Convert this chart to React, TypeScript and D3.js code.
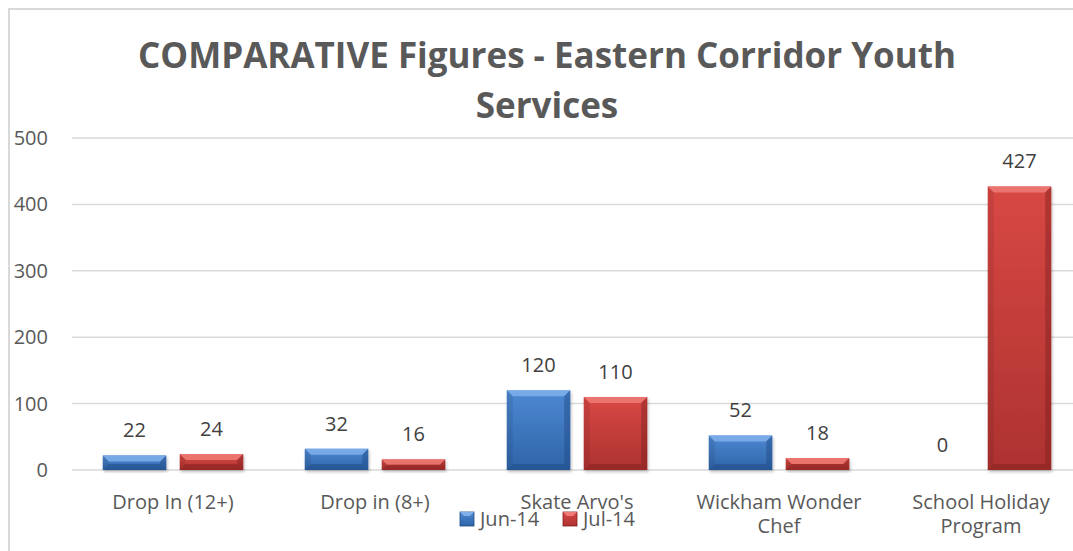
import React, { useEffect, useRef } from 'react'
import * as d3 from 'd3'

const categories = ["Drop In (12+)", "Drop in (8+)", "Skate Arvo's", "Wickham Wonder Chef", "School Holiday Program"]
const categoryLines = [["Drop In (12+)"], ["Drop in (8+)"], ["Skate Arvo's"], ["Wickham Wonder", "Chef"], ["School Holiday", "Program"]]
const seriesNames = ["Jun-14", "Jul-14"]
const jun14 = [22, 32, 120, 52, 0]
const jul14 = [24, 16, 110, 18, 427]
const yTicks = [0, 100, 200, 300, 400, 500]
const titleLines = ["COMPARATIVE Figures - Eastern Corridor Youth", "Services"]

const W = 1073
const H = 551
const FONT = "'Open Sans', 'DejaVu Sans', sans-serif"

const palette = [
    { top: "#7fb0ea", main0: "#4d88d2", main1: "#2f64a8", dark: "#1f4a82" },
    { top: "#ee7b77", main0: "#d84844", main1: "#ad3230", dark: "#7f201e" },
]

export default function App() {
    const svgRef = useRef<SVGSVGElement>(null)

    useEffect(() => {
        if (!svgRef.current) return
        const svg = d3.select(svgRef.current)
        svg.selectAll("*").remove()

        const defs = svg.append("defs")
        palette.forEach((p, i) => {
            const g = defs.append("linearGradient").attr("id", `grad${i}`)
                .attr("x1", 0).attr("y1", 0).attr("x2", 0).attr("y2", 1)
            g.append("stop").attr("offset", "0%").attr("stop-color", p.main0)
            g.append("stop").attr("offset", "100%").attr("stop-color", p.main1)
        })
        const f = defs.append("filter").attr("id", "shadow").attr("x", "-20%").attr("y", "-20%").attr("width", "140%").attr("height", "140%")
        f.append("feDropShadow").attr("dx", 1).attr("dy", 2).attr("stdDeviation", 1.5).attr("flood-color", "#000").attr("flood-opacity", 0.25)

        // chart border (extends past right/bottom edge)
        svg.append("rect")
            .attr("x", 9).attr("y", 9).attr("width", W + 20).attr("height", H + 20)
            .attr("fill", "#fff").attr("stroke", "#d9d9d9").attr("stroke-width", 2)

        const x0 = d3.scaleBand().domain(categories).range([72, 1082])
        const x1 = d3.scaleBand().domain(seriesNames).range([-70.25, 70.25]).paddingInner(0.175)
        const y = d3.scaleLinear().domain([0, 500]).range([470, 138])

        // gridlines
        svg.append("g").selectAll("line").data(yTicks).enter().append("line")
            .attr("x1", 72).attr("x2", W)
            .attr("y1", d => y(d)).attr("y2", d => y(d))
            .attr("stroke", "#d9d9d9").attr("stroke-width", 1.5)

        // y tick labels
        svg.append("g").selectAll("text").data(yTicks).enter().append("text")
            .attr("x", 48).attr("y", d => y(d)).attr("dy", "0.35em")
            .attr("text-anchor", "end")
            .attr("font-family", FONT).attr("font-size", 20).attr("fill", "#595959")
            .text(d => d)

        // title
        svg.append("g").selectAll("text").data(titleLines).enter().append("text")
            .attr("x", 547)
            .attr("y", (_, i) => 68 + i * 50)
            .attr("text-anchor", "middle")
            .attr("font-family", FONT).attr("font-weight", "bold").attr("font-size", 35)
            .attr("fill", "#595959")
            .text(d => d)

        // bars
        const rows = categories.flatMap((c, ci) => [
            { cat: c, s: 0, v: jun14[ci] },
            { cat: c, s: 1, v: jul14[ci] },
        ])
        const bars = svg.append("g")
        rows.forEach(r => {
            const cx = (x0(r.cat) || 0) + x0.bandwidth() / 2
            const bx = cx + (x1(seriesNames[r.s]) || 0)
            const bw = x1.bandwidth()
            const by = y(r.v)
            const bh = y(0) - by
            const p = palette[r.s]
            if (bh > 0) {
                const b = Math.min(6, bh / 2)
                const g = bars.append("g").attr("filter", "url(#shadow)")
                g.append("rect").attr("x", bx).attr("y", by).attr("width", bw).attr("height", bh)
                    .attr("fill", `url(#grad${r.s})`)
                g.append("path")
                    .attr("d", `M${bx},${by}L${bx + bw},${by}L${bx + bw - b},${by + b}L${bx + b},${by + b}Z`)
                    .attr("fill", p.top).attr("opacity", 0.85)
                g.append("path")
                    .attr("d", `M${bx},${by}L${bx + b},${by + b}L${bx + b},${by + bh - b}L${bx},${by + bh}Z`)
                    .attr("fill", "#000").attr("opacity", 0.08)
                g.append("path")
                    .attr("d", `M${bx + bw},${by}L${bx + bw - b},${by + b}L${bx + bw - b},${by + bh - b}L${bx + bw},${by + bh}Z`)
                    .attr("fill", p.dark).attr("opacity", 0.45)
                g.append("path")
                    .attr("d", `M${bx},${by + bh}L${bx + b},${by + bh - b}L${bx + bw - b},${by + bh - b}L${bx + bw},${by + bh}Z`)
                    .attr("fill", p.dark).attr("opacity", 0.5)
            }
            svg.append("text")
                .attr("x", bx + bw / 2).attr("y", by - 18)
                .attr("text-anchor", "middle")
                .attr("font-family", FONT).attr("font-size", 20).attr("fill", "#404040")
                .text(r.v)
        })

        // category labels
        categories.forEach((c, ci) => {
            const cx = (x0(c) || 0) + x0.bandwidth() / 2
            const t = svg.append("text")
                .attr("text-anchor", "middle")
                .attr("font-family", FONT).attr("font-size", 20).attr("fill", "#595959")
            categoryLines[ci].forEach((line, li) => {
                t.append("tspan").attr("x", cx).attr("y", 509 + li * 24).text(line)
            })
        })

        // legend
        const legend = svg.append("g")
        const lx = [460, 563]
        seriesNames.forEach((s, i) => {
            const p = palette[i]
            legend.append("rect").attr("x", lx[i]).attr("y", 512).attr("width", 14).attr("height", 14)
                .attr("fill", `url(#grad${i})`).attr("stroke", p.dark).attr("stroke-width", 0.8)
            legend.append("path")
                .attr("d", `M${lx[i]},512L${lx[i] + 14},512L${lx[i] + 10},516L${lx[i] + 4},516Z`)
                .attr("fill", p.top)
            legend.append("text")
                .attr("x", lx[i] + 20).attr("y", 526)
                .attr("font-family", FONT).attr("font-size", 20).attr("fill", "#595959")
                .text(s)
        })
    }, [])

    return (
        <svg ref={svgRef} width={W} height={H} viewBox={`0 0 ${W} ${H}`}
            style={{ position: 'absolute', left: 0, top: 0, background: '#fff' }} />
    )
}
